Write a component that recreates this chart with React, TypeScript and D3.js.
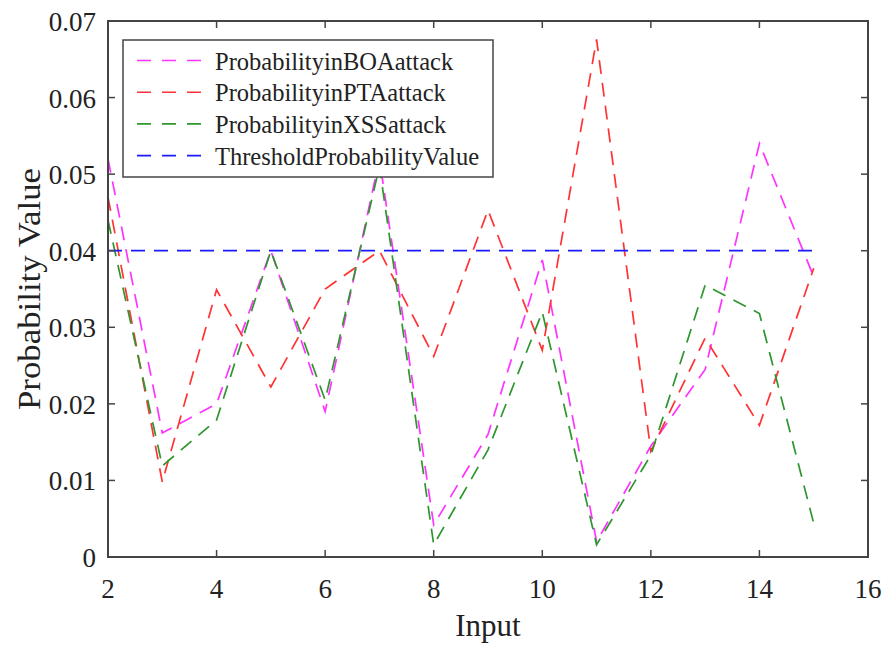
import React from "react";
import * as d3 from "d3";

const inputs = [2, 3, 4, 5, 6, 7, 8, 9, 10, 11, 12, 13, 14, 15];
const boaValues = [0.052, 0.0162, 0.020, 0.040, 0.019, 0.052, 0.0042, 0.016, 0.0388, 0.002, 0.0145, 0.0245, 0.054, 0.0366];
const ptaValues = [0.047, 0.0098, 0.0349, 0.0222, 0.035, 0.040, 0.0262, 0.0453, 0.027, 0.0676, 0.0138, 0.0286, 0.0172, 0.0377];
const xssValues = [0.044, 0.0119, 0.0179, 0.040, 0.0205, 0.0510, 0.0016, 0.014, 0.032, 0.0016, 0.0133, 0.0355, 0.0318, 0.0044];
const thresholdValues = [0.04, 0.04, 0.04, 0.04, 0.04, 0.04, 0.04, 0.04, 0.04, 0.04, 0.04, 0.04, 0.04, 0.04];

const seriesNames = ["ProbabilityinBOAattack", "ProbabilityinPTAattack", "ProbabilityinXSSattack", "ThresholdProbabilityValue"];
const seriesColors = ["#ff33ff", "#ff3333", "#2e962e", "#1a1aff"];
const xTicks = [2, 4, 6, 8, 10, 12, 14, 16];
const yTicks = [0, 0.01, 0.02, 0.03, 0.04, 0.05, 0.06, 0.07];

const FONT = "Liberation Serif, Tinos, Times New Roman, Times, DejaVu Serif, serif";

export default function App() {
  const W = 885, H = 648;
  const L = 108, R = 868, T = 21, B = 557;
  const x = d3.scaleLinear().domain([2, 16]).range([L, R]);
  const y = d3.scaleLinear().domain([0, 0.07]).range([B, T]);
  const line = d3.line<[number, number]>().x(d => x(d[0])).y(d => y(d[1]));
  const allSeries = [boaValues, ptaValues, xssValues, thresholdValues];
  const tickLen = 7;
  const axisColor = "#444";
  const txt = { fontFamily: FONT, fill: "#222" } as React.CSSProperties;

  return (
    <svg width={W} height={H} style={{ position: "absolute", left: 0, top: 0, background: "#fff" }}>
      <rect x={0} y={0} width={W} height={H} fill="#fff" />
      {/* data lines */}
      <g>
        {allSeries.map((vals, i) => (
          <path
            key={i}
            d={line(inputs.map((v, j) => [v, vals[j]] as [number, number])) || ""}
            fill="none"
            stroke={seriesColors[i]}
            strokeWidth={1.7}
            strokeDasharray="14,9"
          />
        ))}
      </g>
      {/* frame */}
      <rect x={L} y={T} width={R - L} height={B - T} fill="none" stroke={axisColor} strokeWidth={2} />
      {/* ticks */}
      {xTicks.map(t => (
        <g key={"xt" + t}>
          <line x1={x(t)} x2={x(t)} y1={B} y2={B - tickLen} stroke={axisColor} strokeWidth={1.5} />
          <line x1={x(t)} x2={x(t)} y1={T} y2={T + tickLen} stroke={axisColor} strokeWidth={1.5} />
          <text x={x(t)} y={598} textAnchor="middle" style={{ ...txt, fontSize: 27 }}>
            {t}
          </text>
        </g>
      ))}
      {yTicks.map(t => (
        <g key={"yt" + t}>
          <line x1={L} x2={L + tickLen} y1={y(t)} y2={y(t)} stroke={axisColor} strokeWidth={1.5} />
          <line x1={R} x2={R - tickLen} y1={y(t)} y2={y(t)} stroke={axisColor} strokeWidth={1.5} />
          <text x={96} y={y(t) + 10} textAnchor="end" style={{ ...txt, fontSize: 27 }}>
            {d3.format("")(t)}
          </text>
        </g>
      ))}
      {/* axis labels */}
      <text x={488} y={636} textAnchor="middle" style={{ ...txt, fontSize: 31 }}>
        Input
      </text>
      <text
        transform={`translate(40, 289) rotate(-90)`}
        textAnchor="middle"
        textLength={242}
        lengthAdjust="spacingAndGlyphs"
        style={{ ...txt, fontSize: 31 }}
      >
        Probability Value
      </text>
      {/* legend */}
      <rect x={123} y={40} width={370} height={137} fill="#fff" stroke={axisColor} strokeWidth={1.5} />
      {seriesNames.map((name, i) => {
        const ly = 60.5 + i * 31.7;
        return (
          <g key={name}>
            <line x1={137} x2={207} y1={ly} y2={ly} stroke={seriesColors[i]} strokeWidth={1.6} strokeDasharray="14,11" />
            <text x={215} y={ly + 9} style={{ ...txt, fontSize: 24.5 }}>
              {name}
            </text>
          </g>
        );
      })}
    </svg>
  );
}
